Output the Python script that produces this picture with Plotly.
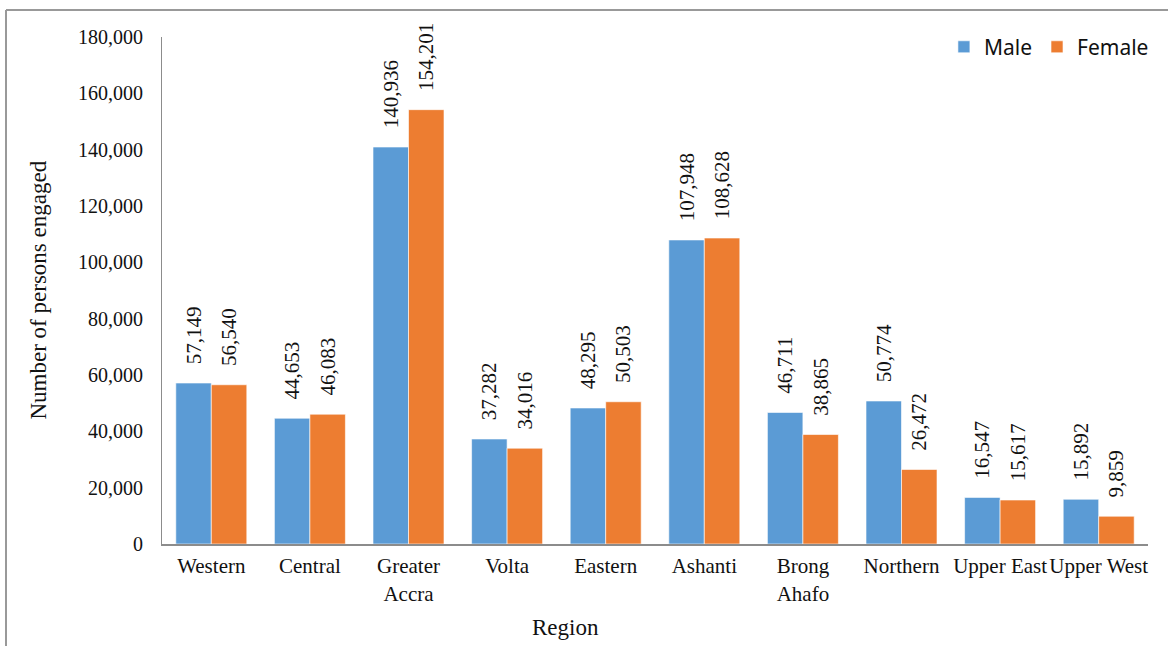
import plotly.graph_objects as go

regions = ["Western", "Central", "Greater<br>Accra", "Volta", "Eastern", "Ashanti",
           "Brong<br>Ahafo", "Northern", "Upper East", "Upper West"]
male = [57149, 44653, 140936, 37282, 48295, 107948, 46711, 50774, 16547, 15892]
female = [56540, 46083, 154201, 34016, 50503, 108628, 38865, 26472, 15617, 9859]
y_ticks = list(range(0, 180001, 20000))

serif = "Liberation Serif, Times New Roman, serif"
W, H = 1168, 646
L, R, T, B = 162, 20, 37, 102

fig = go.Figure()
for name, vals, col in [("Male", male, "#5B9BD5"), ("Female", female, "#ED7D31")]:
    lab_font = dict(family=serif, size=21, color="#111")
    fig.add_trace(go.Bar(
        x=regions, y=vals, name=name,
        marker=dict(color=col, line=dict(color="rgba(255,255,255,0.6)", width=1)),
        # leading nbsp pushes the rotated label away from the bar top
        text=["\u00a0\u00a0\u00a0" + f"{v:,}" for v in vals],
        textposition="outside", textangle=-90,
        constraintext="none", cliponaxis=False,
        textfont=lab_font, outsidetextfont=lab_font,
    ))

fig.update_layout(
    width=W, height=H,
    margin=dict(l=L, r=R, t=T, b=B, autoexpand=False),
    paper_bgcolor="white", plot_bgcolor="white",
    barmode="group", bargap=0.28, bargroupgap=0,
    font=dict(family=serif, size=20, color="#111"),
    legend=dict(orientation="h", x=1.006, xanchor="right", y=0.98, yanchor="middle",
                font=dict(family="Noto Sans", size=21, color="#111"),
                itemwidth=30, traceorder="normal"),
    showlegend=True,
    xaxis=dict(showline=True, linecolor="#8c8c8c", linewidth=2, ticks="",
               automargin=False, ticklabelstandoff=2, tickfont=dict(size=21)),
    yaxis=dict(range=[0, 180000], tickvals=y_ticks,
               ticktext=[f"{v:,}" for v in y_ticks], showgrid=False,
               showline=True, linecolor="#8c8c8c", linewidth=1, ticks="",
               ticklabelstandoff=14, zeroline=False, automargin=False),
)

pw, ph = W - L - R, H - T - B
fig.add_annotation(text="Region", xref="paper", yref="paper",
                   x=(565 - L) / pw, y=-(627 - T - ph) / ph,
                   xanchor="center", yanchor="middle",
                   showarrow=False, font=dict(family=serif, size=23, color="#111"))
fig.add_annotation(text="Number of persons engaged", xref="paper", yref="paper",
                   x=(38 - L) / pw, y=0.5, textangle=-90,
                   xanchor="center", yanchor="middle",
                   showarrow=False, font=dict(family=serif, size=23, color="#111"))

# outer frame (top and left edges visible)
fx = (6 - L) / pw
fy = 1 + (T - 10) / ph
fig.add_shape(type="line", xref="paper", yref="paper", x0=fx, x1=fx, y0=-0.3, y1=fy,
              line=dict(color="#999", width=2))
fig.add_shape(type="line", xref="paper", yref="paper", x0=fx, x1=1.1, y0=fy, y1=fy,
              line=dict(color="#999", width=2))

fig.write_html("out.html", config={"displayModeBar": False},
               post_script="document.body.style.margin='0px';")
